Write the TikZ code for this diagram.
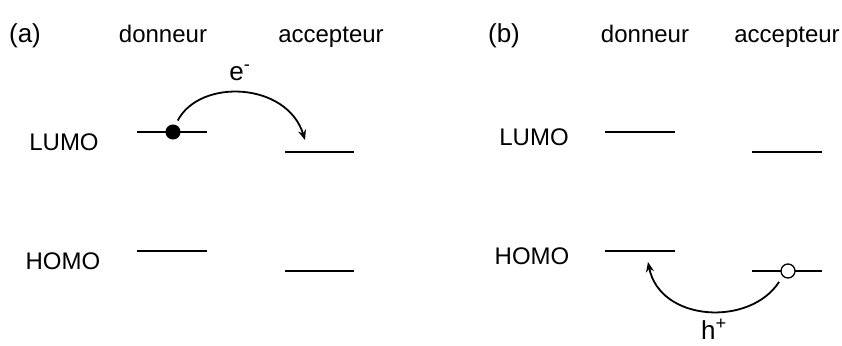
\documentclass[tikz,border=0pt]{standalone}
\usepackage{fontspec}
\setmainfont{Liberation Sans}
\usetikzlibrary{arrows.meta}
\usetikzlibrary{positioning}

\tikzset{
  level/.style={line width=2.6pt},
  hop/.style={-{Stealth[length=10pt,width=8pt]}, line width=1.8pt},
  lbl/.style={anchor=base, inner sep=0pt, font=\fontsize{24}{28}\selectfont},
  tag/.style={lbl, font=\fontsize{26}{30}\selectfont},
  carrier/.style={lbl, font=\fontsize{26}{30}\selectfont},
  electron/.style={circle, fill=black, draw=black, line width=1pt, inner sep=0pt, minimum size=14pt},
  hole/.style={circle, fill=white, draw=black, line width=1.3pt, inner sep=0pt, minimum size=14pt}
}

\begin{document}
\begin{tikzpicture}[x=1pt, y=-1pt]
        \useasboundingbox (0,0) rectangle (842,345);
        % (a) electron transfer
        \node [tag] (tagA) at (25,42) {(a)};
        \node [lbl] (donA) at (163,43) {donneur};
        \node [lbl] (accA) at (331,43) {accepteur};
        \node [lbl] (lumoA) at (64,150) {LUMO};
        \node [lbl] (homoA) at (63,269) {HOMO};
        \coordinate (dlA1) at (137,132); \coordinate (dlA2) at (207,132);
        \coordinate (alA1) at (285,152); \coordinate (alA2) at (354,152);
        \coordinate (dhA1) at (137,251); \coordinate (dhA2) at (207,251);
        \coordinate (ahA1) at (285,271); \coordinate (ahA2) at (354,271);
        \draw [level] (dlA1) -- (dlA2);
        \draw [level] (alA1) -- (alA2);
        \draw [level] (dhA1) -- (dhA2);
        \draw [level] (ahA1) -- (ahA2);
        \node [electron] (eA) at (173,132) {};
        \coordinate (tipA) at (305,140);
        \draw [hop] (eA.60) ++(1,-5) coordinate (startA)
              .. controls (200,78) and (287,82) .. (tipA);
        \node [carrier] (eLbl) at (240,80) {e\textsuperscript{-}};
        % (b) hole transfer
        \node [tag] (tagB) at (504,42) {(b)};
        \node [lbl] (donB) at (645,43) {donneur};
        \node [lbl] (accB) at (787,43) {accepteur};
        \node [lbl] (lumoB) at (534,145) {LUMO};
        \node [lbl] (homoB) at (532,264) {HOMO};
        \coordinate (dlB1) at (605,132); \coordinate (dlB2) at (675,132);
        \coordinate (alB1) at (752,152); \coordinate (alB2) at (822,152);
        \coordinate (dhB1) at (605,251); \coordinate (dhB2) at (675,251);
        \coordinate (ahB1) at (752,271); \coordinate (ahB2) at (822,271);
        \draw [level] (dlB1) -- (dlB2);
        \draw [level] (alB1) -- (alB2);
        \draw [level] (dhB1) -- (dhB2);
        \draw [level] (ahB1) -- (ahB2);
        \node [hole] (hB) at (788,271) {};
        \coordinate (tipB) at (648,262);
        \draw [hop] (hB.230) ++(-4,5) coordinate (startB)
              .. controls (750,327) and (660,322) .. (tipB);
        \node [carrier] (hLbl) at (714,339) {h\textsuperscript{+}};
\end{tikzpicture}
\end{document}
